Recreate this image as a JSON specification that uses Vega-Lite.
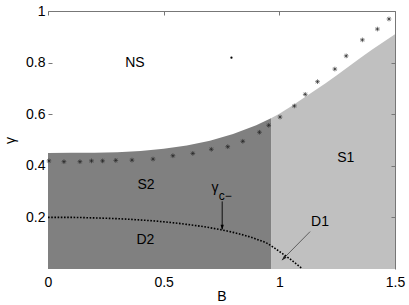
{
  "$schema": "https://vega.github.io/schema/vega-lite/v6.json",
  "width": 347,
  "height": 258,
  "autosize": {"type": "none"},
  "padding": {"left": 48, "top": 11, "right": 14, "bottom": 36},
  "config": {
    "view": {"stroke": null},
    "font": "Liberation Sans",
    "axis": {"labelFont": "Liberation Sans", "titleFont": "Liberation Sans", "labelColor": "#000", "titleColor": "#000", "labelFontSize": 14, "titleFontSize": 14, "titleFontWeight": "normal", "grid": false}
  },
  "resolve": {"axis": {"x": "independent", "y": "independent"}},
  "layer": [
    {
      "data": {"values": [
        {"B": 0, "g": 0.45}, {"B": 0.1, "g": 0.4501}, {"B": 0.2, "g": 0.4508}, {"B": 0.3, "g": 0.453},
        {"B": 0.4, "g": 0.4576}, {"B": 0.5, "g": 0.4658}, {"B": 0.6, "g": 0.4786}, {"B": 0.7, "g": 0.4972},
        {"B": 0.8, "g": 0.523}, {"B": 0.9, "g": 0.557}, {"B": 0.966, "g": 0.585}
      ]},
      "mark": {"type": "area", "color": "#808080", "opacity": 1},
      "encoding": {
        "x": {"field": "B", "type": "quantitative", "scale": {"domain": [0, 1.5], "nice": false, "zero": false},
              "axis": {"orient": "bottom", "values": [0, 0.5, 1, 1.5], "format": "~g", "domain": false, "ticks": false, "labelPadding": 6, "title": "B", "titlePadding": 0, "labelFlush": false}},
        "y": {"field": "g", "type": "quantitative", "scale": {"domain": [0, 1], "nice": false, "zero": false},
              "axis": {"orient": "left", "values": [0.2, 0.4, 0.6, 0.8, 1], "format": "~g", "domain": false, "tickSize": -4, "tickColor": "#777", "labelPadding": 7, "title": "γ", "titlePadding": 8, "labelFlush": false}}
      }
    },
    {
      "data": {"values": [
        {"B": 0.966, "g": 0.585}, {"B": 1.0, "g": 0.602}, {"B": 1.05, "g": 0.63}, {"B": 1.1, "g": 0.66},
        {"B": 1.15, "g": 0.69}, {"B": 1.2, "g": 0.72}, {"B": 1.25, "g": 0.752}, {"B": 1.3, "g": 0.785},
        {"B": 1.35, "g": 0.818}, {"B": 1.4, "g": 0.85}, {"B": 1.45, "g": 0.88}, {"B": 1.5, "g": 0.91}
      ]},
      "mark": {"type": "area", "color": "#c0c0c0", "opacity": 1},
      "encoding": {
        "x": {"field": "B", "type": "quantitative",
              "axis": {"orient": "top", "values": [0, 0.5, 1, 1.5], "labels": false, "title": null, "domainColor": "#777", "tickColor": "#777", "tickSize": -4, "zindex": 1}},
        "y": {"field": "g", "type": "quantitative",
              "axis": {"orient": "right", "values": [0.2, 0.4, 0.6, 0.8, 1], "labels": false, "title": null, "domainColor": "#777", "tickColor": "#777", "tickSize": -4, "zindex": 1}}
      }
    },
    {
      "data": {"values": [
        {"B": 0, "g": 0.2}, {"B": 0.1, "g": 0.2}, {"B": 0.2, "g": 0.198}, {"B": 0.3, "g": 0.195},
        {"B": 0.4, "g": 0.19}, {"B": 0.5, "g": 0.183}, {"B": 0.6, "g": 0.173}, {"B": 0.7, "g": 0.16},
        {"B": 0.8, "g": 0.142}, {"B": 0.9, "g": 0.116}, {"B": 0.95, "g": 0.098}, {"B": 1.0, "g": 0.068},
        {"B": 1.05, "g": 0.036}, {"B": 1.1, "g": 0.0}
      ]},
      "mark": {"type": "line", "color": "#000", "strokeWidth": 1.6, "strokeDash": [1.6, 1.6], "interpolate": "monotone"},
      "encoding": {
        "x": {"field": "B", "type": "quantitative", "axis": null},
        "y": {"field": "g", "type": "quantitative", "axis": null}
      }
    },
    {
      "data": {"values": [
        {"B": 0.004, "g": 0.419}, {"B": 0.069, "g": 0.416}, {"B": 0.138, "g": 0.416}, {"B": 0.188, "g": 0.419},
        {"B": 0.236, "g": 0.419}, {"B": 0.293, "g": 0.421}, {"B": 0.363, "g": 0.422}, {"B": 0.454, "g": 0.426},
        {"B": 0.54, "g": 0.439}, {"B": 0.626, "g": 0.448}, {"B": 0.706, "g": 0.464}, {"B": 0.777, "g": 0.474},
        {"B": 0.842, "g": 0.495}, {"B": 0.914, "g": 0.53}, {"B": 0.954, "g": 0.557}, {"B": 1.003, "g": 0.589},
        {"B": 1.065, "g": 0.632}, {"B": 1.112, "g": 0.677}, {"B": 1.165, "g": 0.726}, {"B": 1.24, "g": 0.775},
        {"B": 1.289, "g": 0.826}, {"B": 1.359, "g": 0.888}, {"B": 1.424, "g": 0.93}, {"B": 1.474, "g": 0.969}
      ]},
      "mark": {"type": "point", "shape": "M-1,0L1,0M0,-1L0,1M-0.7,-0.7L0.7,0.7M-0.7,0.7L0.7,-0.7", "filled": false, "color": "#222", "strokeWidth": 0.6, "size": 22, "opacity": 1},
      "encoding": {
        "x": {"field": "B", "type": "quantitative", "axis": null},
        "y": {"field": "g", "type": "quantitative", "axis": null}
      }
    },
    {
      "data": {"values": [{"B": 0.793, "g": 0.819}]},
      "mark": {"type": "point", "shape": "circle", "filled": true, "color": "#000", "size": 5, "opacity": 1},
      "encoding": {
        "x": {"field": "B", "type": "quantitative", "axis": null},
        "y": {"field": "g", "type": "quantitative", "axis": null}
      }
    },
    {
      "data": {"values": [
        {"B": 0.376, "g": 0.798, "label": "NS"},
        {"B": 0.424, "g": 0.326, "label": "S2"},
        {"B": 0.421, "g": 0.112, "label": "D2"},
        {"B": 1.287, "g": 0.429, "label": "S1"},
        {"B": 1.176, "g": 0.183, "label": "D1"},
        {"B": 0.722, "g": 0.314, "label": "γ"}
      ]},
      "mark": {"type": "text", "fontSize": 14, "color": "#000", "align": "center", "baseline": "middle", "font": "Liberation Sans"},
      "encoding": {
        "x": {"field": "B", "type": "quantitative", "axis": null},
        "y": {"field": "g", "type": "quantitative", "axis": null},
        "text": {"field": "label"}
      }
    },
    {
      "data": {"values": [{"B": 0.766, "g": 0.283, "label": "c−"}]},
      "mark": {"type": "text", "fontSize": 12, "color": "#000", "align": "center", "baseline": "middle", "font": "Liberation Sans"},
      "encoding": {
        "x": {"field": "B", "type": "quantitative", "axis": null},
        "y": {"field": "g", "type": "quantitative", "axis": null},
        "text": {"field": "label"}
      }
    },
    {
      "data": {"values": [{"B": 0.753, "g": 0.262, "B2": 0.753, "g2": 0.155}]},
      "mark": {"type": "rule", "color": "#000", "strokeWidth": 0.9},
      "encoding": {
        "x": {"field": "B", "type": "quantitative", "axis": null},
        "y": {"field": "g", "type": "quantitative", "axis": null},
        "x2": {"field": "B2"},
        "y2": {"field": "g2"}
      }
    },
    {
      "data": {"values": [{"B": 1.133, "g": 0.145, "B2": 1.012, "g2": 0.035}]},
      "mark": {"type": "rule", "color": "#333", "strokeWidth": 0.7},
      "encoding": {
        "x": {"field": "B", "type": "quantitative", "axis": null},
        "y": {"field": "g", "type": "quantitative", "axis": null},
        "x2": {"field": "B2"},
        "y2": {"field": "g2"}
      }
    },
    {
      "data": {"values": [{"B": 0.753, "g": 0.151}]},
      "mark": {"type": "point", "shape": "M-0.55,-1.8L0,0L0.55,-1.8Z", "filled": true, "color": "#000", "size": 36, "opacity": 1, "angle": 0},
      "encoding": {
        "x": {"field": "B", "type": "quantitative", "axis": null},
        "y": {"field": "g", "type": "quantitative", "axis": null}
      }
    },
    {
      "data": {"values": [{"B": 1.010, "g": 0.033}]},
      "mark": {"type": "point", "shape": "M-0.55,-1.8L0,0L0.55,-1.8Z", "filled": true, "color": "#222", "size": 36, "opacity": 1, "angle": 44},
      "encoding": {
        "x": {"field": "B", "type": "quantitative", "axis": null},
        "y": {"field": "g", "type": "quantitative", "axis": null}
      }
    }
  ]
}
